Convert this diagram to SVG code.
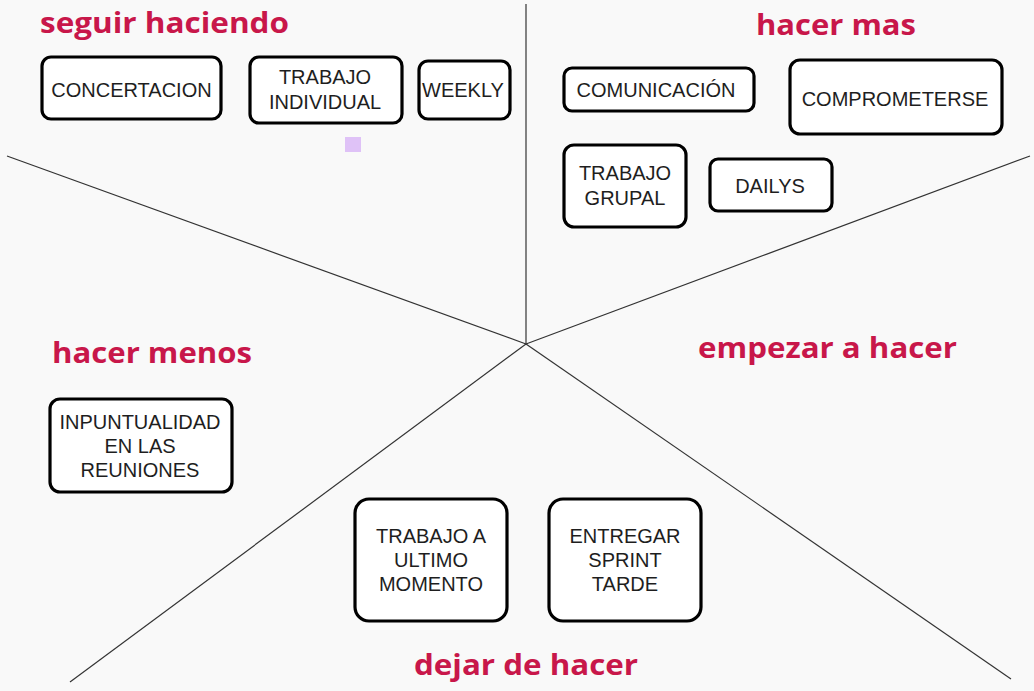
<svg xmlns="http://www.w3.org/2000/svg" width="1034" height="691" viewBox="0 0 1034 691">
<style>
.bg{fill:#f9f9f9}
.ln{stroke:#333;stroke-width:1.2;fill:none}
.box{fill:#fff;stroke:#000;stroke-width:3.2}
.t{font-family:"Liberation Sans",Arial,sans-serif;font-size:20px;fill:#1e1e1e;text-anchor:middle}
.h{font-family:"Open Sans","Noto Sans",sans-serif;font-weight:700;font-size:28px;fill:#c8174a}
</style>
<rect class="bg" x="0" y="0" width="1034" height="691"/>
<g id="connectors">
<line class="ln" x1="526" y1="4" x2="526" y2="344"/>
<line class="ln" x1="7" y1="156" x2="526" y2="344"/>
<line class="ln" x1="1030" y1="156" x2="526" y2="344"/>
<line class="ln" x1="70" y1="682" x2="526" y2="344"/>
<line class="ln" x1="1011" y1="679" x2="526" y2="344"/>
</g>
<g id="titles">
<text class="h" x="40" y="33" textLength="249" lengthAdjust="spacingAndGlyphs">seguir haciendo</text>
<text class="h" x="756" y="35" textLength="160" lengthAdjust="spacingAndGlyphs">hacer mas</text>
<text class="h" x="52" y="363" textLength="200" lengthAdjust="spacingAndGlyphs">hacer menos</text>
<text class="h" x="698" y="358" textLength="259" lengthAdjust="spacingAndGlyphs">empezar a hacer</text>
<text class="h" x="414" y="675" textLength="224" lengthAdjust="spacingAndGlyphs">dejar de hacer</text>
</g>
<g id="concertacion">
<rect class="box" x="42" y="57" width="179" height="62" rx="9"/>
<text class="t" x="131.5" y="97">CONCERTACION</text>
</g>
<g id="trabajo-individual">
<rect class="box" x="250" y="57" width="152" height="66" rx="9"/>
<text class="t" x="325" y="84">TRABAJO</text>
<text class="t" x="325" y="109">INDIVIDUAL</text>
</g>
<g id="weekly">
<rect class="box" x="419" y="61" width="91" height="58" rx="9"/>
<text class="t" x="463" y="97">WEEKLY</text>
</g>
<rect id="marker-square" x="345" y="137" width="16" height="15" fill="#dfc2f7"/>
<g id="comunicacion">
<rect class="box" x="564" y="68" width="190" height="43" rx="8"/>
<text class="t" x="656" y="97">COMUNICACIÓN</text>
</g>
<g id="comprometerse">
<rect class="box" x="790" y="60" width="212" height="74" rx="10"/>
<text class="t" x="895" y="106">COMPROMETERSE</text>
</g>
<g id="trabajo-grupal">
<rect class="box" x="564" y="145" width="122" height="82" rx="10"/>
<text class="t" x="625" y="180">TRABAJO</text>
<text class="t" x="625" y="205">GRUPAL</text>
</g>
<g id="dailys">
<rect class="box" x="710" y="159" width="122" height="52" rx="8"/>
<text class="t" x="770" y="193">DAILYS</text>
</g>
<g id="inpuntualidad">
<rect class="box" x="50" y="399" width="182" height="93" rx="10"/>
<text class="t" x="140" y="429">INPUNTUALIDAD</text>
<text class="t" x="140" y="453">EN LAS</text>
<text class="t" x="140" y="477">REUNIONES</text>
</g>
<g id="trabajo-ultimo-momento">
<rect class="box" x="355" y="499" width="152" height="122" rx="14"/>
<text class="t" x="431" y="543">TRABAJO A</text>
<text class="t" x="431" y="567">ULTIMO</text>
<text class="t" x="431" y="591">MOMENTO</text>
</g>
<g id="entregar-sprint-tarde">
<rect class="box" x="549" y="499" width="152" height="122" rx="14"/>
<text class="t" x="625" y="543">ENTREGAR</text>
<text class="t" x="625" y="567">SPRINT</text>
<text class="t" x="625" y="591">TARDE</text>
</g>
</svg>
